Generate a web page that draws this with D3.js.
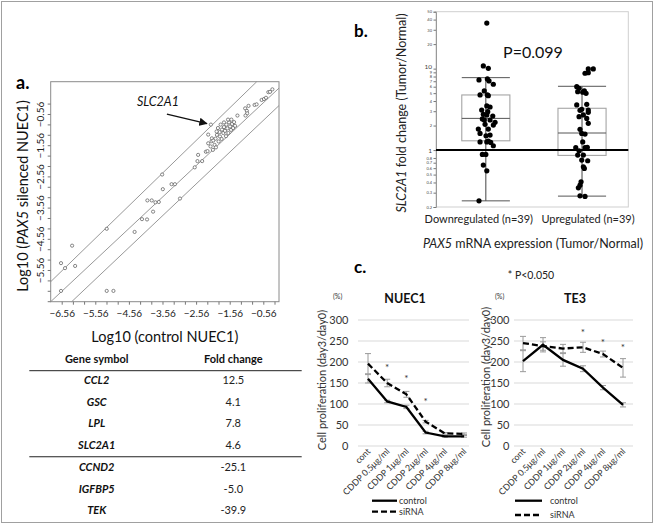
<!DOCTYPE html>
<html><head><meta charset="utf-8">
<script src="https://cdn.jsdelivr.net/npm/d3@7"></script>
<style>
body{margin:0;background:#fff}
svg{display:block;font-family:Lato,"Open Sans",sans-serif}
</style>
</head><body>
<svg id="c" width="655" height="526"></svg>
<script>
// ---------- Panel a: scatter (log10 values) ----------
const scatterX = [-6.58,-5.22,-5.02,-6.58,-6.46,-6.16,-6.25,-5.22,-4.39,-4.17,
 -4.02,-3.84,-4.01,-3.88,-3.77,-3.67,-3.55,-3.57,-3.29,-3.19,
 -3.04,-2.60,-2.52,-2.50,-2.38,-2.27,-2.22,-2.20,-2.12,
 -2.20,-2.13,-2.10,-2.09,-2.05,-2.01,-2.06,-1.97,-1.98,-1.94,
 -1.89,-1.86,-1.85,-1.80,-1.79,-1.75,-1.73,-1.70,-1.67,-1.66,
 -1.63,-1.60,-1.58,-1.55,-1.52,-1.49,-1.46,-1.61,-1.51,-1.43,
 -1.40,-1.73,-1.91,-1.83,-1.95,
 -1.33,-1.10,-1.05,-1.04,-1.09,-1.00,-0.82,-0.76,-0.61,-0.54,-0.48,-0.41,-0.36,-0.29];
const scatterY = [-6.23,-6.23,-6.23,-5.34,-5.50,-5.43,-4.78,-4.24,-4.34,-3.93,
 -3.94,-3.69,-3.33,-3.33,-3.39,-3.38,-2.97,-2.50,-2.81,-2.81,
 -3.27,-2.27,-2.07,-1.87,-2.07,-1.77,-1.75,-1.22,-0.90,
 -1.50,-1.60,-1.43,-1.34,-1.41,-1.55,-1.71,-1.63,-1.35,-1.23,
 -1.44,-1.14,-1.28,-1.36,-1.06,-1.17,-0.98,-1.10,-1.27,-0.90,
 -1.02,-1.17,-0.83,-0.96,-1.07,-0.88,-1.01,-0.74,-0.74,-0.82,
 -0.94,-0.83,-1.01,-0.90,-1.12,
 -0.61,-0.38,-0.46,-0.54,-0.61,-0.30,-0.27,-0.25,-0.11,-0.08,-0.04,0.14,0.15,0.23];
const highlightIndex = 28;           // SLC2A1
const highlightName = "SLC2A1";
const scatterTicksX = [-6.56,-5.56,-4.56,-3.56,-2.56,-1.56,-0.56];
const scatterTicksY = [-5.56,-4.56,-3.56,-2.56,-1.56,-0.56];
const guideUpper = [[-6.887,-5.935],[-0.756,0.475]];
const guideMiddle = [[-6.887,-6.576],[-0.093,0.27]];
const guideLower = [[-6.262,-6.576],[-0.093,-0.29]];

// ---------- Table ----------
const tableGenes = ["CCL2","GSC","LPL","SLC2A1","CCND2","IGFBP5","TEK"];
const tableFold = ["12.5","4.1","7.8","4.6","-25.1","-5.0","-39.9"];
const tableHeaders = ["Gene symbol","Fold change"];

// ---------- Panel b: box plot ----------
const groupLabels = ["Downregulated (n=39)","Upregulated (n=39)"];
const downValues = [36.2,10.8,10.1,7.26,7.47,6.43,5.32,4.75,4.75,4.65,3.48,3.38,3.10,2.96,2.75,2.70,2.62,2.41,2.34,2.19,2.07,2.03,1.81,1.81,1.60,1.50,1.53,1.26,1.29,1.24,1.13,0.885,0.885,0.654,0.556,0.238,7.06,2.34,1.26];
const downJitter = [0.01,-0.026,0.026,-0.071,0.016,0.078,-0.016,-0.06,0.016,0.026,0.01,0.044,-0.043,0.02,-0.026,0.01,0.072,-0.036,0.044,0.096,-0.008,0.078,-0.078,0.026,-0.06,0.002,0.044,-0.06,0.026,0.051,0.078,-0.036,0,-0.026,0.01,-0.071,0.033,-0.016,0.01];
const upValues = [9.92,9.92,8.78,8.93,6.01,5.74,5.32,5.21,4.98,3.58,3.65,3.17,3.10,3.08,2.57,2.70,2.45,2.13,1.80,1.60,1.57,1.26,1.07,1.07,1.08,0.98,0.868,0.753,0.739,0.623,0.596,0.408,0.371,0.344,0.274,0.270,0.868,2.91,5.13];
const upJitter = [0.065,0.117,0.031,0.065,-0.055,-0.031,0.024,-0.045,0.042,-0.055,0.049,-0.003,0.065,-0.021,-0.031,0.014,0.049,0.065,-0.021,-0.003,0.031,0.007,-0.065,0.031,0.055,-0.031,0.014,-0.003,0.059,0.014,0.024,-0.01,-0.021,-0.038,-0.021,0.031,-0.045,0.065,0.007];
const boxLow = [0.238,0.272];
const boxQ1 = [1.30,0.86];
const boxMed = [2.45,1.62];
const boxQ3 = [4.75,3.26];
const boxHigh = [7.75,6.07];
const bTicks = [50,40,30,20,10,9,8,7,6,5,4,3,2,1,0.8,0.7,0.6,0.5,0.4,0.3,0.2];
const pValueText = "P=0.099";

// ---------- Panel c: proliferation ----------
const doses = ["cont","CDDP 0.5μg/ml","CDDP 1μg/ml","CDDP 2μg/ml","CDDP 4μg/ml","CDDP 8μg/ml"];
const cTicks = [0,50,100,150,200,250,300];
const nuecControl = [160,106,93,32,23,23];
const nuecControlErr = [10,3,4,3,2,2];
const nuecSiRNA = [196,150,123,58,30,29];
const nuecSiRNAErr = [24,9,7,3,2,2];
const nuecStarIdx = [1,2,3];
const nuecStarVal = [190,164,109];
const te3Control = [202,241,205,184,139,98];
const te3ControlErr = [25,17,15,7,5,5];
const te3SiRNA = [245,238,232,235,219,186];
const te3SiRNAErr = [16,10,10,12,7,22];
const te3StarIdx = [3,4,5];
const te3StarVal = [274,250,238];

// =========================================================
const svg = d3.select("#c");
svg.append("rect").attr("x",1.5).attr("y",1.5).attr("width",651).attr("height",521)
  .attr("fill","none").attr("stroke","#a0a0a0");

// ---------- Panel a ----------
const ax = d3.scaleLinear().domain([-6.887,-0.093]).range([50.7,279]);
const ay = d3.scaleLinear().domain([-6.576,0.475]).range([301.7,81.7]);
const ga = svg.append("g");
ga.append("rect").attr("x",ax.range()[0]).attr("y",ay.range()[1])
  .attr("width",ax.range()[1]-ax.range()[0]).attr("height",ay.range()[0]-ay.range()[1])
  .attr("fill","none").attr("stroke","#8a8a8a");
const minor = d3.range(-21,20).map(k=>-6.56+k/3).filter(v=>v>-6.887&&v<-0.093);
ga.append("g").attr("transform",`translate(0,${ay.range()[0]})`)
  .call(d3.axisBottom(ax).tickValues(minor).tickSize(3).tickFormat(""))
  .call(g=>{g.select(".domain").remove();g.selectAll("line").attr("stroke","#777");});
const minorY = d3.range(-21,20).map(k=>-6.56+k/3).filter(v=>v>-6.576&&v<0.475);
ga.append("g").attr("transform",`translate(${ax.range()[0]},0)`)
  .call(d3.axisLeft(ay).tickValues(minorY).tickSize(3).tickFormat(""))
  .call(g=>{g.select(".domain").remove();g.selectAll("line").attr("stroke","#777");});
ga.append("g").attr("transform",`translate(0,${ay.range()[0]})`)
  .call(d3.axisBottom(ax).tickValues(scatterTicksX).tickSize(0).tickPadding(8).tickFormat(d3.format(".2f")))
  .call(g=>{g.select(".domain").remove();
    g.selectAll("text").attr("font-family","Lato,sans-serif").attr("font-size",10).attr("fill","#222");});
ga.append("g").attr("transform",`translate(${ax.range()[0]},0)`)
  .call(d3.axisLeft(ay).tickValues(scatterTicksY).tickSize(0).tickFormat(d3.format(".2f")))
  .call(g=>{g.select(".domain").remove();
    g.selectAll("text").attr("font-family","Lato,sans-serif").attr("font-size",10).attr("fill","#222")
     .attr("x",0).attr("dy",0).attr("text-anchor","middle").attr("transform","translate(-7,0) rotate(-90)");});
const line = d3.line().x(d=>ax(d[0])).y(d=>ay(d[1]));
[guideUpper,guideMiddle,guideLower].forEach(gl=>{
  ga.append("path").attr("d",line(gl)).attr("fill","none").attr("stroke","#8c8c8c").attr("stroke-width",0.9);
});
ga.selectAll("circle.pt").data(scatterX.map((x,i)=>[x,scatterY[i]])).join("circle")
  .attr("class","pt").attr("cx",d=>ax(d[0])).attr("cy",d=>ay(d[1])).attr("r",1.6)
  .attr("fill","#fff").attr("stroke","#555").attr("stroke-width",0.7);
// annotation
const hx = ax(scatterX[highlightIndex]), hy = ay(scatterY[highlightIndex]);
svg.append("defs").append("marker").attr("id","ah").attr("viewBox","0 0 10 10")
  .attr("refX",9).attr("refY",5).attr("markerWidth",6).attr("markerHeight",6).attr("orient","auto")
  .append("path").attr("d","M0,0L10,5L0,10z").attr("fill","#111");
ga.append("line").attr("x1",hx-44).attr("y1",hy-10.5).attr("x2",hx-4).attr("y2",hy-1)
  .attr("stroke","#111").attr("stroke-width",1.4).attr("marker-end","url(#ah)");
ga.append("text").attr("x",hx-74).attr("y",hy-19).attr("font-size",12.5).attr("font-style","italic")
  .attr("fill","#111").text(highlightName);
ga.append("text").attr("x",16).attr("y",89).attr("font-size",18).attr("font-weight","bold").text("a.");
ga.append("text").attr("x",(ax.range()[0]+ax.range()[1])/2).attr("y",341.5).attr("text-anchor","middle")
  .attr("font-size",14.5).attr("fill","#111").text("Log10 (control NUEC1)");
const ayl = ga.append("text").attr("transform","translate(28,196) rotate(-90)").attr("text-anchor","middle")
  .attr("font-size",14.5).attr("fill","#111");
ayl.append("tspan").text("Log10 (");
ayl.append("tspan").attr("font-style","italic").text("PAX5");
ayl.append("tspan").text(" silenced NUEC1)");

// ---------- Table ----------
const gt = svg.append("g");
const colX = d3.scalePoint().domain(tableHeaders).range([96.7,233.3]);
gt.selectAll("text.h").data(tableHeaders).join("text").attr("class","h")
  .attr("x",d=>colX(d)).attr("y",362.5).attr("text-anchor","middle")
  .attr("font-size",11).attr("font-weight","bold").attr("fill","#111").text(d=>d);
const rowY = d3.scalePoint().domain(d3.range(tableGenes.length)).range([384,514.2]);
gt.append("line").attr("x1",29.3).attr("x2",301.7).attr("y1",370.7).attr("y2",370.7).attr("stroke","#222").attr("stroke-width",1);
gt.append("line").attr("x1",29.3).attr("x2",301.7).attr("y1",(rowY(3)+rowY(4))/2-3.2).attr("y2",(rowY(3)+rowY(4))/2-3.2)
  .attr("stroke","#222").attr("stroke-width",1);
gt.selectAll("text.g").data(tableGenes).join("text").attr("class","g")
  .attr("x",colX(tableHeaders[0])).attr("y",(d,i)=>rowY(i)).attr("text-anchor","middle")
  .attr("font-size",11).attr("font-weight","bold").attr("font-style","italic").attr("fill","#111").text(d=>d);
gt.selectAll("text.f").data(tableFold).join("text").attr("class","f")
  .attr("x",colX(tableHeaders[1])).attr("y",(d,i)=>rowY(i)).attr("text-anchor","middle")
  .attr("font-size",11).attr("fill","#222").text(d=>d);

// ---------- Panel b ----------
const gb = svg.append("g");
const bx = d3.scaleLinear().domain([-0.518,1.481]).range([436,628.3]);
const by = d3.scaleLog().domain([0.2,50]).range([207,11.7]);
gb.append("rect").attr("x",bx.range()[0]).attr("y",by.range()[1]).attr("width",bx.range()[1]-bx.range()[0])
  .attr("height",by.range()[0]-by.range()[1]).attr("fill","none").attr("stroke","#cfcfcf");
gb.append("g").attr("transform",`translate(${bx.range()[0]},0)`)
  .call(d3.axisLeft(by).tickValues(bTicks).tickSize(2.5).tickPadding(1.5).tickFormat(d=>String(d)))
  .call(g=>{g.select(".domain").attr("stroke","#999");
    g.selectAll("line").attr("stroke","#777");
    g.selectAll("text").attr("font-family","Lato,sans-serif").attr("fill","#444")
      .attr("font-size",d=>(d===1||d===10)?6.5:4)
      .attr("dy",d=>d===10?"0.05em":"0.32em");});
const half = 0.25;
[0,1].forEach(i=>{
  gb.append("line").attr("x1",bx(i)).attr("x2",bx(i)).attr("y1",by(boxLow[i])).attr("y2",by(boxHigh[i]))
    .attr("stroke","#444").attr("stroke-width",1);
  [boxLow[i],boxHigh[i]].forEach(v=>gb.append("line").attr("x1",bx(i-half)).attr("x2",bx(i+half))
    .attr("y1",by(v)).attr("y2",by(v)).attr("stroke","#555").attr("stroke-width",1));
  gb.append("rect").attr("x",bx(i-half)).attr("width",bx(i+half)-bx(i-half))
    .attr("y",by(boxQ3[i])).attr("height",by(boxQ1[i])-by(boxQ3[i]))
    .attr("fill","none").attr("stroke","#a5a5a5").attr("stroke-width",1.1);
  gb.append("line").attr("x1",bx(i-half)).attr("x2",bx(i+half)).attr("y1",by(boxMed[i])).attr("y2",by(boxMed[i]))
    .attr("stroke","#555").attr("stroke-width",1);
});
gb.append("line").attr("x1",bx.range()[0]).attr("x2",bx.range()[1]).attr("y1",by(1)).attr("y2",by(1))
  .attr("stroke","#000").attr("stroke-width",2);
const bPts = downValues.map((v,i)=>[0+downJitter[i],v]).concat(upValues.map((v,i)=>[1+upJitter[i],v]));
gb.selectAll("circle").data(bPts).join("circle").attr("cx",d=>bx(d[0])).attr("cy",d=>by(d[1]))
  .attr("r",2.6).attr("fill","#000");
gb.append("text").attr("x",533).attr("y",58.3).attr("text-anchor","middle").attr("font-size",16).attr("fill","#111").text(pValueText);
gb.selectAll("text.gl").data(groupLabels).join("text").attr("class","gl")
  .attr("x",(d,i)=>bx(i)+(i===0?-7:6)).attr("y",223).attr("text-anchor","middle")
  .attr("font-size",11).attr("fill","#222").text(d=>d);
const bxl = gb.append("text").attr("x",643).attr("y",248).attr("text-anchor","end").attr("font-size",12.5).attr("fill","#222");
bxl.append("tspan").attr("font-style","italic").text("PAX5");
bxl.append("tspan").text(" mRNA expression (Tumor/Normal)");
const byl = gb.append("text").attr("transform","translate(406,113) rotate(-90)").attr("text-anchor","middle")
  .attr("font-size",12.5).attr("fill","#222");
byl.append("tspan").attr("font-style","italic").text("SLC2A1");
byl.append("tspan").text(" fold change (Tumor/Normal)");
gb.append("text").attr("x",354).attr("y",37).attr("font-size",17).attr("font-weight","bold").text("b.");
svg.append("text").attr("x",354).attr("y",273).attr("font-size",17).attr("font-weight","bold").text("c.");
svg.append("text").attr("x",531).attr("y",279).attr("text-anchor","middle").attr("font-size",10.5).attr("fill","#222").text("* P<0.050");

// ---------- Panel c ----------
function prolif(opt){
  const g = svg.append("g");
  const x = d3.scalePoint().domain(doses).range(opt.xr);
  const y = d3.scaleLinear().domain([0,300]).range([446,320]);
  g.selectAll("line.grid").data(cTicks).join("line").attr("class","grid")
    .attr("x1",opt.gx[0]).attr("x2",opt.gx[1]).attr("y1",d=>y(d)).attr("y2",d=>y(d))
    .attr("stroke","#d9d9d9").attr("stroke-width",1);
  g.selectAll("text.yt").data(cTicks).join("text").attr("class","yt")
    .attr("x",opt.ytx).attr("y",d=>y(d)).attr("dy","0.35em").attr("text-anchor","end")
    .attr("font-size",11).attr("fill","#333").text(d=>d);
  g.append("text").attr("x",opt.pct).attr("y",299).attr("font-size",7).attr("fill","#333").text("(%)");
  g.append("text").attr("x",opt.tx).attr("y",302.5).attr("text-anchor","middle").attr("font-size",12.5)
    .attr("font-weight","bold").attr("fill","#111").text(opt.title);
  g.append("text").attr("transform",`translate(${opt.ylx},${opt.yly}) rotate(-90)`).attr("text-anchor","middle")
    .attr("font-size",11).attr("fill","#333").text("Cell proliferation (day3/day0)");
  // error bars
  [[opt.ctl,opt.ctlErr],[opt.si,opt.siErr]].forEach(([vals,errs])=>{
    vals.forEach((v,i)=>{
      const cx = x(doses[i]);
      g.append("line").attr("x1",cx).attr("x2",cx).attr("y1",y(v-errs[i])).attr("y2",y(v+errs[i])).attr("stroke","#9a9a9a").attr("stroke-width",1);
      [v-errs[i],v+errs[i]].forEach(e=>g.append("line").attr("x1",cx-3).attr("x2",cx+3).attr("y1",y(e)).attr("y2",y(e)).attr("stroke","#9a9a9a").attr("stroke-width",1));
    });
  });
  const ln = d3.line().x((d,i)=>x(doses[i])).y(d=>y(d));
  g.append("path").attr("d",ln(opt.ctl)).attr("fill","none").attr("stroke","#000").attr("stroke-width",2.3);
  g.append("path").attr("d",ln(opt.si)).attr("fill","none").attr("stroke","#000").attr("stroke-width",2.3).attr("stroke-dasharray","6,3");
  opt.starIdx.forEach((k,j)=>g.append("text").attr("x",x(doses[k])).attr("y",y(opt.starVal[j])).attr("dy","0.5em")
    .attr("text-anchor","middle").attr("font-size",10).attr("fill","#333").text("*"));
  g.selectAll("text.xl").data(doses).join("text").attr("class","xl")
    .attr("transform",d=>`translate(${x(d)+3},452) rotate(-45)`).attr("text-anchor","end")
    .attr("font-size",8.8).attr("fill","#333").text(d=>d);
  // legend
  g.append("line").attr("x1",opt.lx).attr("x2",opt.lx+opt.lw).attr("y1",500.7).attr("y2",500.7).attr("stroke","#000").attr("stroke-width",2.3);
  g.append("line").attr("x1",opt.lx).attr("x2",opt.lx+opt.lw).attr("y1",opt.ly2).attr("y2",opt.ly2).attr("stroke","#000").attr("stroke-width",2.3).attr("stroke-dasharray","6,3");
  g.append("text").attr("x",opt.ltx).attr("y",500.7).attr("dy","0.35em").attr("font-size",9).attr("fill","#333").text("control");
  g.append("text").attr("x",opt.ltx).attr("y",opt.ly2).attr("dy","0.35em").attr("font-size",9).attr("fill","#333").text("siRNA");
}
prolif({xr:[368,464],gx:[358,469],ytx:348.5,pct:333,tx:405,title:"NUEC1",ylx:326,yly:380,
  ctl:nuecControl,ctlErr:nuecControlErr,si:nuecSiRNA,siErr:nuecSiRNAErr,starIdx:nuecStarIdx,starVal:nuecStarVal,
  lx:372,lw:25,ly2:511.7,ltx:399});
prolif({xr:[523,623],gx:[514,633],ytx:509.5,pct:495,tx:575,title:"TE3",ylx:490,yly:377,
  ctl:te3Control,ctlErr:te3ControlErr,si:te3SiRNA,siErr:te3SiRNAErr,starIdx:te3StarIdx,starVal:te3StarVal,
  lx:515,lw:27,ly2:515,ltx:550});
</script>
</body></html>
